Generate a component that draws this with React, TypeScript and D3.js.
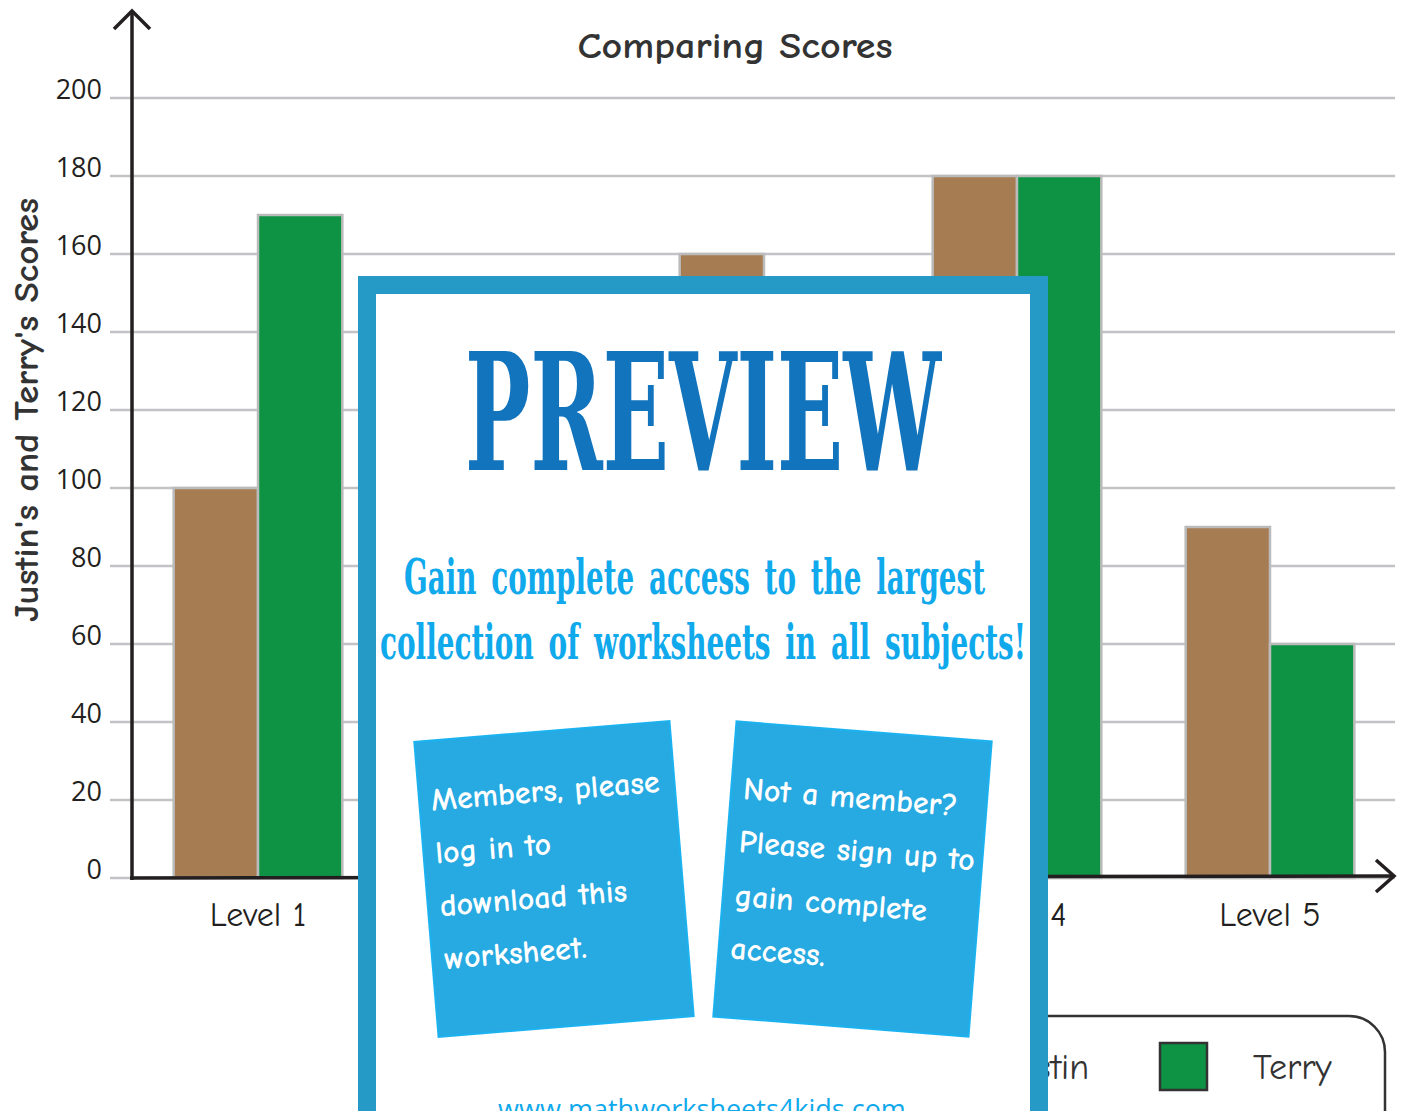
import * as d3 from 'd3';

const W = 1407;
const H = 1111;

// chart data
const levels = ['Level 1', 'Level 2', 'Level 3', 'Level 4', 'Level 5'];
const players = ['Justin', 'Terry'];
const justinScores = [100, 120, 160, 180, 90];
const terryScores = [170, 140, 140, 180, 60];
const yTicks = [0, 20, 40, 60, 80, 100, 120, 140, 160, 180, 200];
const colors = { Justin: '#a67c52', Terry: '#0e9344' };

const HAND = "'Comic Sans MS', 'Comic Neue', Lato, sans-serif";
const MYRIAD = "'Open Sans', 'Noto Sans', sans-serif";
const SLAB = "'DejaVu Serif Condensed', 'DejaVu Serif', serif";

const x0 = d3.scaleBand().domain(levels).range([131.5, 1396.5]).padding(0);
const x1 = d3.scaleBand().domain(players).range([0, x0.bandwidth()]).paddingInner(0).paddingOuter(0.5);
const y = d3.scaleLinear().domain([0, 200]).range([878, 98]);

const rows = levels.map((lv, i) => ({ level: lv, Justin: justinScores[i], Terry: terryScores[i] }));

const leftCard = ['Members, please', 'log in to', 'download this', 'worksheet.'];
const rightCard = ['Not a member?', 'Please sign up to', 'gain complete', 'access.'];

const Card = ({ cx, cy, angle, lines, baselines }) => (
    <g transform={`translate(${cx},${cy}) rotate(${angle})`}>
        <rect x={-128} y={-148} width={256} height={296} fill="#27a9e1" stroke="#1cb2f0" strokeWidth={2} />
        {lines.map((t, i) => (
            <text key={t} x={-116} y={baselines[i]} fill="#fff" fontFamily={HAND} fontWeight="bold" fontSize={32}>{t}</text>
        ))}
    </g>
);

export default function App() {
    const axisColor = '#231f20';
    return (
        <svg width={W} height={H} style={{ position: 'absolute', left: 0, top: 0, background: '#fff' }}>
            {/* grid */}
            {yTicks.map((t) => (
                <g key={t}>
                    <line x1={110} x2={1395} y1={y(t)} y2={y(t)} stroke="#c3c3c7" strokeWidth={2.5} />
                    <text x={102} y={y(t) + 1} textAnchor="end" fontFamily={MYRIAD} fontSize={27} fill={axisColor}>{t}</text>
                </g>
            ))}

            {/* bars */}
            {rows.map((r) => (
                <g key={r.level} transform={`translate(${x0(r.level)},0)`}>
                    {players.map((p) => (
                        <rect key={p} x={x1(p)} y={y(r[p])} width={x1.bandwidth()} height={y(0) - y(r[p])}
                            fill={colors[p]} stroke="#bbbbbb" strokeWidth={2.5} />
                    ))}
                </g>
            ))}

            {/* axes */}
            <line x1={132} y1={880} x2={132} y2={12} stroke={axisColor} strokeWidth={3.5} />
            <polyline points="114,29 132,11 150,29" fill="none" stroke={axisColor} strokeWidth={3.5} />
            <line x1={130} y1={878} x2={1394} y2={876} stroke={axisColor} strokeWidth={3.5} />
            <polyline points="1376,860 1394,876 1376,892" fill="none" stroke={axisColor} strokeWidth={3.5} />

            {levels.map((lv) => (
                <text key={lv} x={x0(lv) + x0.bandwidth() / 2} y={926} textAnchor="middle"
                    fontFamily={HAND} fontSize={34} fill={axisColor}>{lv}</text>
            ))}

            <text x={735} y={58} textAnchor="middle" fontFamily={HAND} fontWeight="bold" fontSize={37} fill="#333"
                textLength={315} lengthAdjust="spacingAndGlyphs">Comparing Scores</text>
            <text transform="translate(38,410) rotate(-90)" textAnchor="middle" fontFamily={HAND} fontWeight="bold"
                fontSize={34} fill="#333" textLength={424} lengthAdjust="spacingAndGlyphs">Justin's and Terry's Scores</text>

            {/* legend */}
            <rect x={820} y={1016} width={565} height={140} rx={36} fill="#fff" stroke="#333" strokeWidth={2.5} />
            {players.map((p, i) => (
                <g key={p} transform={`translate(${908 + i * 252},1043)`}>
                    <rect width={47} height={47} fill={colors[p]} stroke="#333" strokeWidth={2.5} />
                    <text x={93} y={36} fontFamily={HAND} fontSize={36} fill="#333">{p}</text>
                </g>
            ))}

            {/* preview overlay */}
            <rect x={367} y={285} width={672} height={900} fill="#fff" stroke="#259ac7" strokeWidth={18} />
            <text x={465} y={470} fontFamily={SLAB} fontWeight="bold" fontSize={163} fill="#1274bd"
                textLength={476} lengthAdjust="spacingAndGlyphs">PREVIEW</text>
            <text x={404} y={594} fontFamily={SLAB} fontWeight="bold" fontSize={48} fill="#0fa9ec" wordSpacing={8}
                textLength={581} lengthAdjust="spacingAndGlyphs">Gain complete access to the largest</text>
            <text x={380} y={659} fontFamily={SLAB} fontWeight="bold" fontSize={48} fill="#0fa9ec" wordSpacing={8}
                textLength={646} lengthAdjust="spacingAndGlyphs">collection of worksheets in all subjects!</text>

            <Card cx={554} cy={879} angle={-4.7} lines={leftCard} baselines={[-78, -25, 28, 81]} />
            <Card cx={852.5} cy={879} angle={4.5} lines={rightCard} baselines={[-71, -18, 36, 89]} />

            <text x={702} y={1119} textAnchor="middle" fontFamily={MYRIAD} fontSize={27} fill="#0fa9ec">www.mathworksheets4kids.com</text>
        </svg>
    );
}
